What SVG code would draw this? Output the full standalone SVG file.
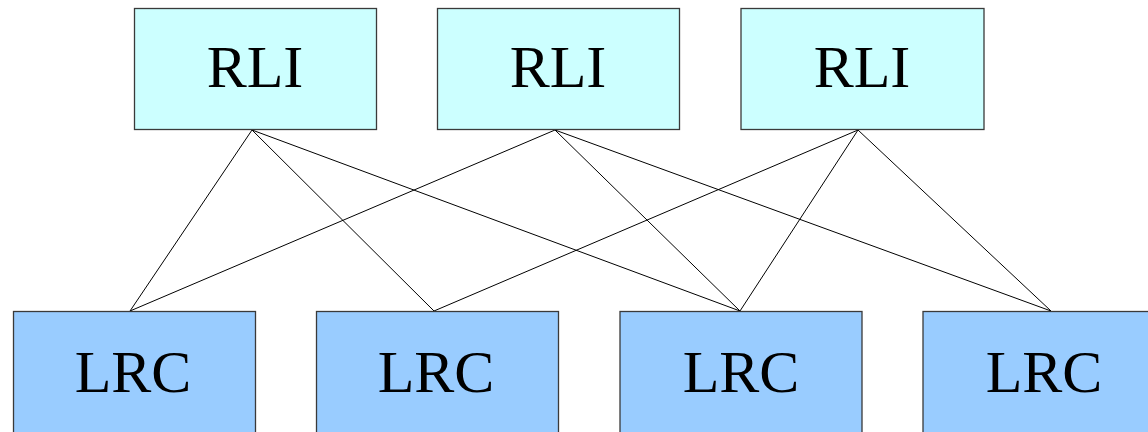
<svg xmlns="http://www.w3.org/2000/svg" width="1148" height="432" viewBox="0 0 1148 432">
<style>
.rli{fill:#ccffff;stroke:#3a3a3a;stroke-width:1.3}
.lrc{fill:#99ccff;stroke:#3a3a3a;stroke-width:1.3}
.t{font-family:"Liberation Serif",serif;font-size:60px;text-anchor:middle;fill:#000}
#connectors line{stroke:#000;stroke-width:1}
</style>
<rect width="1148" height="432" fill="#fff"/>
<g id="connectors">
<line x1="252" y1="130" x2="130" y2="311"/>
<line x1="252" y1="130" x2="434" y2="311"/>
<line x1="252" y1="130" x2="740" y2="311"/>
<line x1="555" y1="130" x2="130" y2="311"/>
<line x1="555" y1="130" x2="740" y2="311"/>
<line x1="555" y1="130" x2="1051" y2="311"/>
<line x1="858" y1="130" x2="434" y2="311"/>
<line x1="858" y1="130" x2="740" y2="311"/>
<line x1="858" y1="130" x2="1051" y2="311"/>
</g>
<g id="rli1"><rect class="rli" x="134.5" y="8.5" width="242" height="121"/><text class="t" x="255" y="87">RLI</text></g>
<g id="rli2"><rect class="rli" x="437.5" y="8.5" width="242" height="121"/><text class="t" x="558" y="87">RLI</text></g>
<g id="rli3"><rect class="rli" x="741" y="8.5" width="243" height="121"/><text class="t" x="862" y="87">RLI</text></g>
<g id="lrc1"><rect class="lrc" x="13.5" y="311.5" width="242" height="130"/><text class="t" x="133" y="392">LRC</text></g>
<g id="lrc2"><rect class="lrc" x="316.5" y="311.5" width="242" height="130"/><text class="t" x="436" y="392">LRC</text></g>
<g id="lrc3"><rect class="lrc" x="620" y="311.5" width="242" height="130"/><text class="t" x="741" y="392">LRC</text></g>
<g id="lrc4"><rect class="lrc" x="923" y="311.5" width="242" height="130"/><text class="t" x="1044" y="392">LRC</text></g>
</svg>
